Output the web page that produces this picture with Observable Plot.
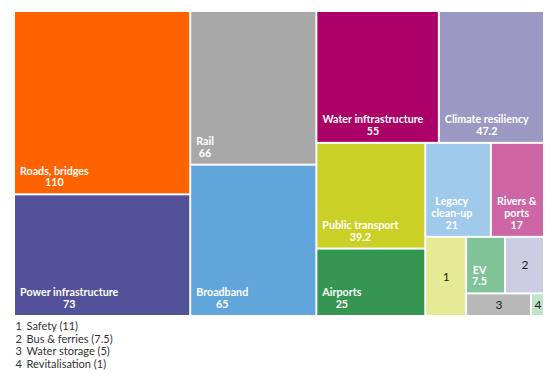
<!DOCTYPE html>
<html><head><meta charset="utf-8">
<script src="https://cdn.jsdelivr.net/npm/d3@7"></script>
<script src="https://cdn.jsdelivr.net/npm/@observablehq/plot@0.6"></script>
<style>body{margin:0;background:#fff}</style>
</head><body><div id="chart"></div>
<script>
const names = ["Roads, bridges","Power infrastructure","Rail","Broadband","Water inftrastructure","Climate resiliency","Public transport","Airports","Legacy\nclean-up","Rivers &\nports","Safety","EV","Bus & ferries","Water storage","Revitalisation"];
const values = [110,73,66,65,55,47.2,39.2,25,21,17,11,7.5,7.5,5,1];
const valueLabels = ["110","73","66","65","55","47.2","39.2","25","21","17","","7.5","","",""];
const keyNumbers = ["","","","","","","","","","","1","","2","3","4"];
const colors = ["#FF6200","#525199","#A8A8A8","#60A6DA","#AB0066","#9B99C3","#CBD026","#349651","#A0CAEB","#CE65A4","#E5EB94","#80C396","#CCCCE2","#B8B8B8","#C0E3CB"];
const legendNumbers = ["1","2","3","4"];
const legendLabels = ["Safety (11)","Bus & ferries (7.5)","Water storage (5)","Revitalisation (1)"];

const W = 559, H = 379;
const items = names.map((n,i)=>({name:n, value:values[i], vlabel:valueLabels[i], key:keyNumbers[i], color:colors[i], idx:i}));
const root = d3.hierarchy({children: items}).sum(d => d.value || 0).sort((a,b)=> b.value - a.value || a.data.idx - b.data.idx);
d3.treemap().tile(d3.treemapSquarify.ratio(1)).size([530,305]).round(false)(root);
const ox = 14, oy = 11;
const ctx = document.createElement("canvas").getContext("2d");
const FS = 10.7;
ctx.font = `bold ${FS}px Lato`;
const cells = root.leaves().map(l => {
  const d = l.data;
  const text = d.key ? "" : (d.name + "\n" + d.vlabel);
  const lines = text ? text.split("\n") : [];
  const mw = lines.length ? d3.max(lines, s => ctx.measureText(s).width) : 0;
  return {name:d.name, color:d.color, key:d.key, text,
    x0:l.x0+ox, x1:l.x1+ox, y0:l.y0+oy, y1:l.y1+oy,
    lx: l.x0+ox+5.5+mw/2, ly: l.y1+oy-8.5,
    cx:(l.x0+l.x1)/2+ox, cy:(l.y0+l.y1)/2+oy};
});
const legend = legendNumbers.map((n,i)=>({n, label:legendLabels[i], y: 329.5 + i*12.7}));

const chart = Plot.plot({
  width: W, height: H, margin: 0,
  x: {type:"identity", axis:null}, y: {type:"identity", axis:null},
  style: {fontFamily: "Lato", background: "#fff"},
  marks: [
    Plot.rect(cells, {x1:"x0", x2:"x1", y1:"y0", y2:"y1", fill: d => d.color, inset: 1}),
    Plot.text(cells.filter(d => d.text), {x:"lx", y:"ly", text:"text", fill:"white", fontSize:FS, fontWeight:"bold", textAnchor:"middle", lineAnchor:"bottom", lineHeight:1.1}),
    Plot.text(cells.filter(d => d.key), {x:"cx", y:"cy", text:"key", fill:"#222", fontSize:12, textAnchor:"middle", lineAnchor:"middle"}),
    Plot.text(legend, {x: 15, y:"y", text:"n", fill:"#333", fontSize:11, textAnchor:"start", lineAnchor:"bottom"}),
    Plot.text(legend, {x: 26, y:"y", text:"label", fill:"#333", fontSize:11, textAnchor:"start", lineAnchor:"bottom"})
  ]
});
document.getElementById("chart").append(chart);
</script></body></html>
